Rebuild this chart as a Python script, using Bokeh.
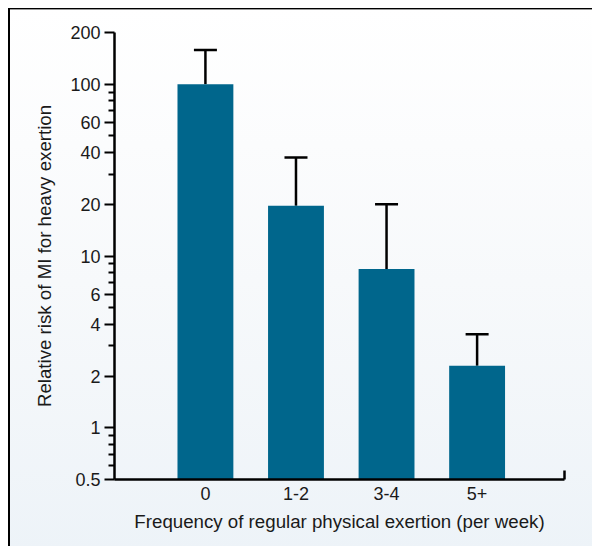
from bokeh.plotting import figure
from bokeh.models import FixedTicker, Range1d, Whisker, ColumnDataSource, TeeHead, NumeralTickFormatter
from bokeh.embed import file_html
from bokeh.resources import INLINE

categories = ["0", "1-2", "3-4", "5+"]
relative_risk = [100, 19.6, 8.4, 2.3]
upper_ci = [158, 37.5, 20, 3.5]
y_major_ticks = [0.5, 1, 2, 4, 6, 10, 20, 40, 60, 100, 200]
y_minor_ticks = [0.6, 0.7, 0.8, 0.9, 3, 5, 7, 8, 9, 30, 50, 70, 80, 90]

xs = list(range(len(categories)))
src = ColumnDataSource(dict(x=xs, top=relative_risk, upper=upper_ci))

FONT = "Liberation Sans"
TXT = "#1a1a1a"

bg = ", ".join([
    "linear-gradient(#000000, #000000) 9px 8px / 100% 1px no-repeat",
    "linear-gradient(#9a9a9a, #9a9a9a) 10px 9px / 100% 1px no-repeat",
    "linear-gradient(#000000, #000000) 8px 8px / 2px 100% no-repeat",
    "linear-gradient(to bottom, #ffffff 0%, #f7f9fb 50%, #edf3f8 100%) 9px 8px / 100% 100% no-repeat",
    "#ffffff",
])

p = figure(width=592, height=546, y_axis_type="log",
           x_range=Range1d(-1.004, 3.965), y_range=Range1d(0.5, 200),
           output_backend="svg", toolbar_location=None,
           min_border_left=114, min_border_right=28, min_border_top=32, min_border_bottom=67,
           styles={"background": bg})
p.border_fill_color = None
p.background_fill_color = None
p.outline_line_color = None
p.grid.grid_line_color = None

p.vbar(x="x", top="top", bottom=0.5, width=0.617, source=src,
       fill_color="#00668c", line_color=None)

w = Whisker(base="x", upper="upper", lower="top", source=src,
            line_color="black", line_width=2.5,
            upper_head=TeeHead(size=23, line_color="black", line_width=2.5),
            lower_head=None)
p.add_layout(w)

# y axis
ya = p.yaxis[0]
ya.ticker = FixedTicker(ticks=y_major_ticks, minor_ticks=y_minor_ticks)
ya.formatter = NumeralTickFormatter(format="0.[0]")
ya.axis_line_width = 2.5
ya.axis_line_color = "black"
ya.major_tick_line_width = 2
ya.major_tick_line_color = "black"
ya.minor_tick_line_width = 2
ya.minor_tick_line_color = "black"
ya.major_tick_in = 0
ya.major_tick_out = 10
ya.minor_tick_in = 0
ya.minor_tick_out = 6
ya.major_label_standoff = 4
ya.major_label_text_font = FONT
ya.major_label_text_font_size = "18px"
ya.major_label_text_color = TXT
ya.axis_label = "Relative risk of MI for heavy exertion"
ya.axis_label_text_font = FONT
ya.axis_label_text_font_size = "18.7px"
ya.axis_label_text_font_style = "normal"
ya.axis_label_text_color = TXT
ya.axis_label_standoff = 12

# x axis
xa = p.xaxis[0]
xa.ticker = FixedTicker(ticks=xs, minor_ticks=[3.96])
xa.major_label_overrides = {i: c for i, c in zip(xs, categories)}
xa.axis_line_width = 2.5
xa.axis_line_color = "black"
xa.major_tick_in = 0
xa.major_tick_out = 0
xa.minor_tick_in = 9
xa.minor_tick_out = 0
xa.minor_tick_line_width = 2.5
xa.minor_tick_line_color = "black"
xa.major_label_standoff = 7
xa.major_label_text_font = FONT
xa.major_label_text_font_size = "18px"
xa.major_label_text_color = TXT
xa.axis_label = "Frequency of regular physical exertion (per week)"
xa.axis_label_text_font = FONT
xa.axis_label_text_font_size = "18.7px"
xa.axis_label_text_font_style = "normal"
xa.axis_label_text_color = TXT
xa.axis_label_standoff = 8

open("out.html", "w").write(file_html(p, INLINE))
